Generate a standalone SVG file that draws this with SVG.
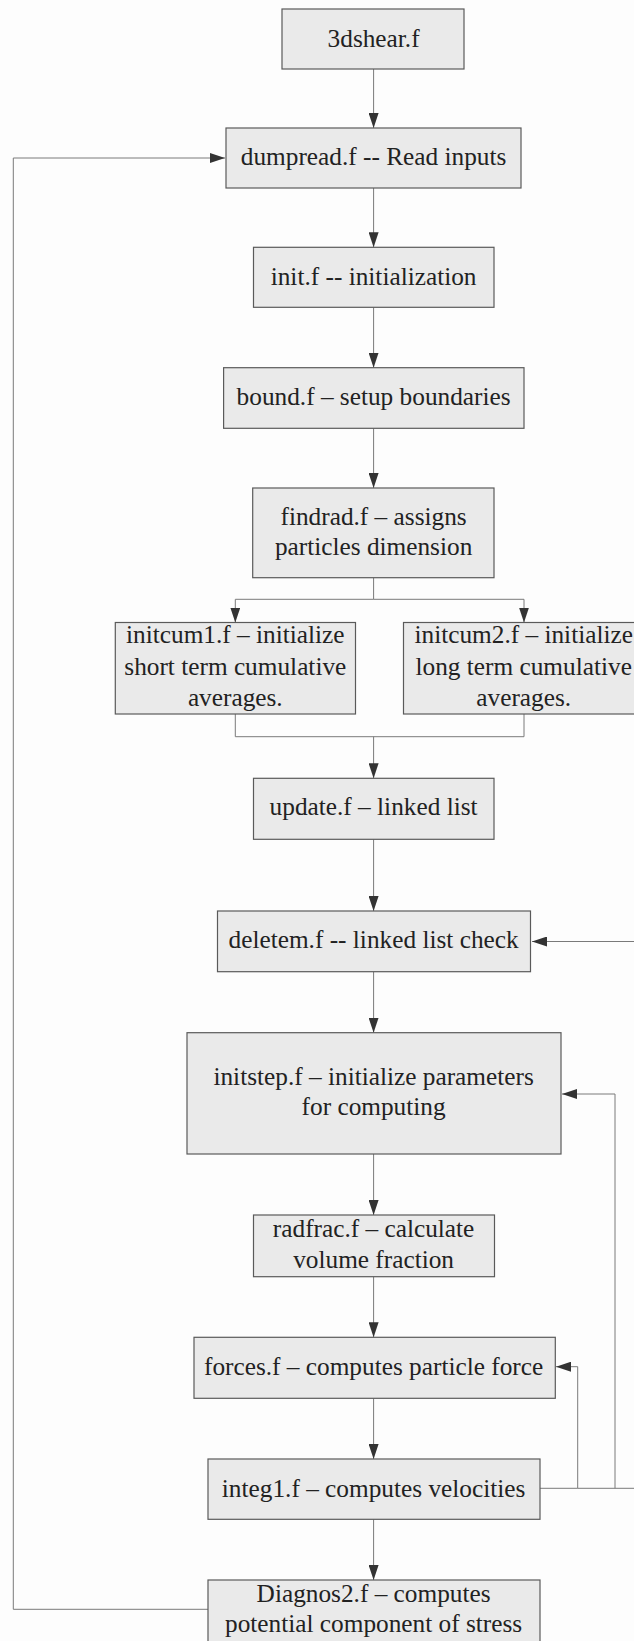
<svg xmlns="http://www.w3.org/2000/svg" width="634" height="1641" viewBox="0 0 634 1641">
<style>
.box{fill:#eaeaea;stroke:#5a5a5a;stroke-width:1.2}
.t{font-family:"Liberation Serif","Times New Roman",serif;font-size:25.3px;fill:#222;text-anchor:middle}
.c{fill:none;stroke:#7a7a7a;stroke-width:1}
</style>
<defs>
<marker id="arr" viewBox="0 0 15 10" refX="15" refY="5" markerWidth="15" markerHeight="10" orient="auto" markerUnits="userSpaceOnUse">
<path d="M0,0 L15,5 L0,10 z" fill="#333"/>
</marker>
</defs>
<rect width="634" height="1641" fill="#fdfdfd"/>
<g id="connectors">
<path class="c" d="M373.6 69 V128" marker-end="url(#arr)"/>
<path class="c" d="M373.6 188 V247.3" marker-end="url(#arr)"/>
<path class="c" d="M373.6 307.3 V367.7" marker-end="url(#arr)"/>
<path class="c" d="M373.6 428.3 V488" marker-end="url(#arr)"/>
<path class="c" d="M373.6 577.7 V599.3 H235.3 V622.5" marker-end="url(#arr)"/>
<path class="c" d="M373.6 599.3 H524 V622.5" marker-end="url(#arr)"/>
<path class="c" d="M235.3 714 V736.7 H524 V714"/>
<path class="c" d="M373.6 736.7 V778.3" marker-end="url(#arr)"/>
<path class="c" d="M373.6 839.3 V911" marker-end="url(#arr)"/>
<path class="c" d="M373.6 971.7 V1032.7" marker-end="url(#arr)"/>
<path class="c" d="M373.6 1154 V1215" marker-end="url(#arr)"/>
<path class="c" d="M373.6 1276.7 V1337.3" marker-end="url(#arr)"/>
<path class="c" d="M373.6 1398.3 V1459" marker-end="url(#arr)"/>
<path class="c" d="M373.6 1519.3 V1580" marker-end="url(#arr)"/>
<path class="c" d="M208 1609.3 H13.3 V158 H225" marker-end="url(#arr)"/>
<path class="c" d="M540 1488.3 H577.7 V1366.7 H556" marker-end="url(#arr)"/>
<path class="c" d="M577.7 1488.3 H615 V1094 H562" marker-end="url(#arr)"/>
<path class="c" d="M615 1488.3 H640 V941.5 H532" marker-end="url(#arr)"/>
</g>
<g id="n3dshear"><rect class="box" x="282" y="9" width="182" height="60"/><text class="t" x="373.6" y="46.7">3dshear.f</text></g>
<g id="dumpread"><rect class="box" x="226" y="128" width="295" height="60"/><text class="t" x="373.6" y="165">dumpread.f -- Read inputs</text></g>
<g id="init"><rect class="box" x="253.5" y="247.3" width="240.5" height="60"/><text class="t" x="373.6" y="285">init.f -- initialization</text></g>
<g id="bound"><rect class="box" x="223.6" y="367.7" width="300.4" height="60.6"/><text class="t" x="373.6" y="405">bound.f – setup boundaries</text></g>
<g id="findrad"><rect class="box" x="252.7" y="488" width="241.3" height="89.7"/><text class="t" x="373.6" y="525">findrad.f – assigns</text><text class="t" x="373.6" y="555">particles dimension</text></g>
<g id="initcum1"><rect class="box" x="115.3" y="622.5" width="240.2" height="91.5"/><text class="t" x="235.3" y="643">initcum1.f – initialize</text><text class="t" x="235.3" y="675">short term cumulative</text><text class="t" x="235.3" y="705.7">averages.</text></g>
<g id="initcum2"><rect class="box" x="403.5" y="622.5" width="240.2" height="91.5"/><text class="t" x="523.7" y="643">initcum2.f – initialize</text><text class="t" x="523.7" y="675">long term cumulative</text><text class="t" x="523.7" y="705.7">averages.</text></g>
<g id="update"><rect class="box" x="253.5" y="778.3" width="240.5" height="61"/><text class="t" x="373.6" y="815">update.f – linked list</text></g>
<g id="deletem"><rect class="box" x="217.5" y="911" width="313" height="60.7"/><text class="t" x="373.6" y="948">deletem.f -- linked list check</text></g>
<g id="initstep"><rect class="box" x="187" y="1032.7" width="374" height="121.3"/><text class="t" x="373.6" y="1085">initstep.f – initialize parameters</text><text class="t" x="373.6" y="1115">for computing</text></g>
<g id="radfrac"><rect class="box" x="253.5" y="1215" width="241" height="61.7"/><text class="t" x="373.6" y="1237">radfrac.f – calculate</text><text class="t" x="373.6" y="1268">volume fraction</text></g>
<g id="forces"><rect class="box" x="194" y="1337.3" width="361.3" height="61"/><text class="t" x="373.6" y="1375">forces.f – computes particle force</text></g>
<g id="integ1"><rect class="box" x="208" y="1459" width="332" height="60.3"/><text class="t" x="373.6" y="1496.7">integ1.f – computes velocities</text></g>
<g id="diagnos2"><rect class="box" x="208" y="1580" width="332" height="62"/><text class="t" x="373.6" y="1602.3">Diagnos2.f – computes</text><text class="t" x="373.6" y="1632.3">potential component of stress</text></g>
</svg>
